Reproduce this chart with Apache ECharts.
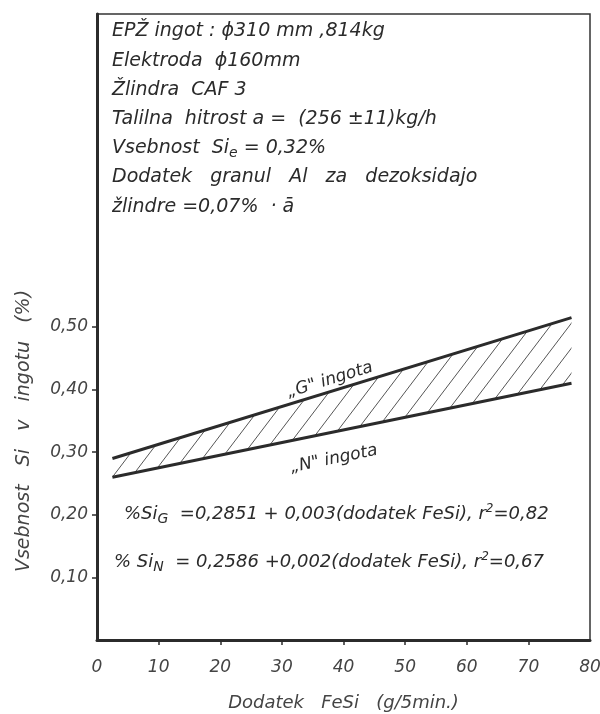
<!DOCTYPE html>
<html>
<head>
<meta charset="utf-8">
<script src="https://cdn.jsdelivr.net/npm/echarts@6/dist/echarts.min.js"></script>
<style>
    html, body { margin: 0; padding: 0; background: #fff; }
    #chart { width: 600px; height: 714px; }
</style>
</head>
<body>
<div id="chart"></div>
<script>
    // data
    const xFeSi = [2.5, 77]
    const siG = [0.29, 0.515]
    const siN = [0.26, 0.41]
    const xTicks = [0, 10, 20, 30, 40, 50, 60, 70, 80]
    const yTicks = [0.1, 0.2, 0.3, 0.4, 0.5]

    const infoLines = [
        'EPŽ ingot : ϕ310 mm ,814kg',
        'Elektroda  ϕ160mm',
        'Žlindra  CAF 3',
        'Talilna  hitrost a =  (256 ±11)kg/h',
        'Vsebnost  Si{sub|e} = 0,32%',
        'Dodatek   granul   Al   za   dezoksidajo',
        'žlindre =0,07%  · ā'
    ]
    const eqLines = [
        '%Si{sub|G}  =0,2851 + 0,003(dodatek FeSi), r{sup|2}=0,82',
        '% Si{sub|N}  = 0,2586 +0,002(dodatek FeSi), r{sup|2}=0,67'
    ]

    const ink = '#2b2b2b'
    const font = 'DejaVu Sans'

    // hatch pattern for the band between the two lines
    function hatch() {
        const w = 19, h = 25
        const c = document.createElement('canvas')
        c.width = w
        c.height = h
        const g = c.getContext('2d')
        g.strokeStyle = '#555'
        g.lineWidth = 1
        g.beginPath()
        g.moveTo(0, h); g.lineTo(w, 0)
        g.moveTo(-w, h); g.lineTo(0, 0)
        g.moveTo(w, h); g.lineTo(2 * w, 0)
        g.stroke()
        return c
    }

    const rich = {
        sub: { fontFamily: font, fontStyle: 'italic', fontSize: 14, fill: ink, padding: [10, 0, 0, 0] },
        sup: { fontFamily: font, fontStyle: 'italic', fontSize: 12, fill: ink, padding: [0, 0, 10, 0] }
    }

    const graphics = []
    infoLines.forEach((t, i) => {
        graphics.push({
            type: 'text', left: 112, top: 22 + i * 29.2,
            style: { text: t, font: 'italic 19px ' + font, fill: ink, rich: rich }
        })
    })
    eqLines.forEach((t, i) => {
        graphics.push({
            type: 'text', left: i === 0 ? 124 : 114, top: 503 + i * 48,
            style: { text: t, font: 'italic 18px ' + font, fill: ink, rich: rich }
        })
    })
    graphics.push({
        type: 'text', x: 330, y: 380, rotation: 0.3,
        style: { text: '„G" ingota', font: 'italic 17px ' + font, fill: ink, align: 'center', verticalAlign: 'middle' }
    })
    graphics.push({
        type: 'text', x: 334, y: 459, rotation: 0.2,
        style: { text: '„N" ingota', font: 'italic 17px ' + font, fill: ink, align: 'center', verticalAlign: 'middle' }
    })
    graphics.push({
        type: 'text', x: 24, y: 431, rotation: Math.PI / 2,
        style: { text: 'Vsebnost   Si   v   ingotu   (%)', font: 'italic 19px ' + font, fill: '#444', align: 'center', verticalAlign: 'middle' }
    })

    const myChart = echarts.init(document.getElementById('chart'))
    const options = {
        backgroundColor: '#fff',
        animation: false,
        grid: {
            left: 97, right: 10, top: 14, bottom: 74,
            outerBoundsMode: 'none',
            show: true, borderColor: '#333', borderWidth: 1.5
        },
        xAxis: {
            type: 'value', min: 0, max: 80, interval: 10,
            name: 'Dodatek   FeSi   (g/5min.)',
            nameLocation: 'middle', nameGap: 54,
            nameTextStyle: { fontFamily: font, fontStyle: 'italic', fontSize: 18, color: '#444' },
            axisLine: { lineStyle: { color: ink, width: 3 } },
            axisTick: { length: 5, lineStyle: { color: ink, width: 1.5 }, customValues: xTicks.slice(1, -1) },
            axisLabel: {
                customValues: xTicks, margin: 19,
                fontFamily: font, fontStyle: 'italic', fontSize: 17, color: '#444'
            },
            splitLine: { show: false }
        },
        yAxis: {
            type: 'value', min: 0, max: 1.0, interval: 0.1,
            axisLine: { lineStyle: { color: ink, width: 3 } },
            axisTick: { length: 5, lineStyle: { color: ink, width: 1.5 }, customValues: yTicks },
            axisLabel: {
                customValues: yTicks, margin: 9,
                fontFamily: font, fontStyle: 'italic', fontSize: 17, color: '#444',
                formatter: (v) => v.toFixed(2).replace('.', ',')
            },
            splitLine: { show: false }
        },
        series: [
            {
                // hatched band between the two regression lines
                type: 'custom',
                data: [[xFeSi[0], siN[0]]],
                renderItem: (params, api) => {
                    const pts = xFeSi.map((x, i) => api.coord([x, siG[i]]))
                        .concat(xFeSi.map((x, i) => api.coord([x, siN[i]])).reverse())
                    return {
                        type: 'polygon',
                        shape: { points: pts },
                        style: { fill: { image: hatch(), repeat: 'repeat' }, stroke: null }
                    }
                },
                z: 2
            },
            {
                name: 'G',
                type: 'line',
                symbol: 'none',
                data: xFeSi.map((x, i) => [x, siG[i]]),
                lineStyle: { color: ink, width: 3 },
                z: 3
            },
            {
                name: 'N',
                type: 'line',
                symbol: 'none',
                data: xFeSi.map((x, i) => [x, siN[i]]),
                lineStyle: { color: ink, width: 3 },
                z: 3
            }
        ],
        graphic: graphics
    }
    myChart.setOption(options)
    window.addEventListener('resize', myChart.resize)
</script>
</body>
</html>
